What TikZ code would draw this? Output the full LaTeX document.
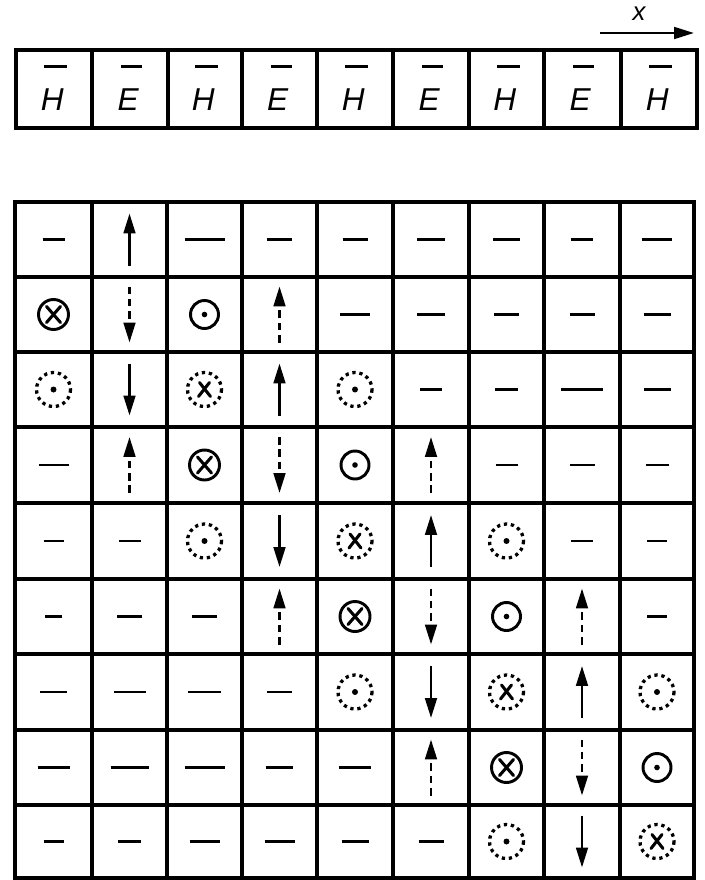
\documentclass[tikz,border=0pt]{standalone}
\usepackage{fontspec}
\setmainfont{Liberation Sans}
\usetikzlibrary{arrows.meta}
\newcommand\barred[1]{\setbox0=\hbox{#1}\vbox{\moveright 3pt\hbox{\vrule height 2.2pt depth 0pt width \wd0}\kern 7pt\box0}}
\tikzset{
  gridline/.style={line width=3pt},
  symline/.style={line width=2.2pt},
  tip/.style={-{Triangle[length=17pt,width=10pt]}},
  dashedarrow/.style={symline, dash pattern=on 6.5pt off 4pt},
  solidring/.style={line width=2.5pt},
  dotring/.style={line width=2.8pt, dash pattern=on 2.8pt off 3.2pt},
  lettr/.style={font=\fontsize{27}{30}\selectfont\itshape, inner sep=0pt},
  dsh/.pic={\draw[symline] (-#1/2,0) -- (#1/2,0);},
  arrup/.pic={\draw[symline,tip] (0,26) -- (0,-26);},
  arrdn/.pic={\draw[symline,tip] (0,-26) -- (0,26);},
  darrup/.pic={\draw[dashedarrow,tip] (0,28) -- (0,-28);},
  darrdn/.pic={\draw[dashedarrow,tip] (0,-28) -- (0,28);},
  dotc/.pic={\draw[solidring] (0,0) circle[radius=14]; \fill (0,0) circle[radius=2.8];},
  crossc/.pic={\draw[solidring] (0,0) circle[radius=15];
                \draw[symline,line width=2.6pt,line cap=round] (-7,-8) -- (7,8) (7,-8) -- (-7,8);},
  dotdotc/.pic={\draw[dotring] (0,0) circle[radius=17]; \fill (0,0) circle[radius=3];},
  dotcrossc/.pic={\draw[dotring] (0,0) circle[radius=17];
                \draw[symline,line width=2.6pt,line cap=round] (-5,-7) -- (6,7) (5,-7) -- (-6,7);},
}
\begin{document}
\begin{tikzpicture}[x=0.03cm, y=-0.03cm]
\useasboundingbox (0,0) rectangle (704,880);

% x axis arrow and label
\coordinate (xa) at (600,33);
\coordinate (xb) at (694,33);
\draw[symline,tip] (xa) -- (xb);
\node (xl) at (639,14) {\fontsize{22}{24}\selectfont\itshape x};

% top strip
\draw[gridline] (16,50) rectangle (697,128);
\foreach \xx in {92,168,242,317,393,469,544,621}
  \draw[gridline] (\xx,50) -- (\xx,128);
\foreach \xx/\t [count=\i] in {54/H,130/E,205/H,279.5/E,355/H,431/E,506.5/H,582/E,659/H}
  \node[lettr] (l\i) at (\xx,88) {\barred{\t}};

% main grid
\draw[gridline] (15,202) rectangle (694,878);
\foreach \xx in {92,167,242,317,393,469,544,620}
  \draw[gridline] (\xx,202) -- (\xx,878);
\foreach \yy in {277,352,427,503,579,654,730,805}
  \draw[gridline] (15,\yy) -- (694,\yy);

% cell centres
\foreach \cx [count=\i] in {53.5,129.5,204.5,279.5,355,431,506.5,582,657}
  \foreach \cy [count=\j] in {239.5,314.5,389.5,465,541,616.5,692,767.5,841.5}
    \coordinate (c-\i-\j) at (\cx,\cy);

% dashes (col/row/length)
\foreach \c/\r/\l in {1/1/22,3/1/40,4/1/25,5/1/25,6/1/28,7/1/27,8/1/22,9/1/30,
  5/2/30,6/2/28,7/2/25,8/2/25,9/2/27,
  6/3/22,7/3/23,8/3/42,9/3/27,
  1/4/30,7/4/22,8/4/25,9/4/23,
  1/5/20,2/5/22,8/5/22,9/5/20,
  1/6/17,2/6/25,3/6/25,9/6/20,
  1/7/27,2/7/32,3/7/33,4/7/25,
  1/8/32,2/8/38,3/8/40,4/8/27,5/8/32,
  1/9/20,2/9/23,3/9/30,4/9/30,5/9/27,6/9/25}
  \pic (d-\c-\r) at (c-\c-\r) {dsh=\l};

\foreach \c/\r in {2/1,4/3,6/5,8/7} \pic (u-\c-\r) at (c-\c-\r) {arrup};
\foreach \c/\r in {2/3,4/5,6/7,8/9} \pic (n-\c-\r) at (c-\c-\r) {arrdn};
\foreach \c/\r in {2/2,4/4,6/6,8/8} \pic (dn-\c-\r) at (c-\c-\r) {darrdn};
\foreach \c/\r in {4/2,2/4,6/4,4/6,8/6,6/8} \pic (du-\c-\r) at (c-\c-\r) {darrup};
\foreach \c/\r in {3/2,5/4,7/6,9/8} \pic (o-\c-\r) at (c-\c-\r) {dotc};
\foreach \c/\r in {1/2,3/4,5/6,7/8} \pic (x-\c-\r) at (c-\c-\r) {crossc};
\foreach \c/\r in {1/3,5/3,3/5,7/5,5/7,9/7,7/9} \pic (po-\c-\r) at (c-\c-\r) {dotdotc};
\foreach \c/\r in {3/3,5/5,7/7,9/9} \pic (px-\c-\r) at (c-\c-\r) {dotcrossc};
\end{tikzpicture}
\end{document}
